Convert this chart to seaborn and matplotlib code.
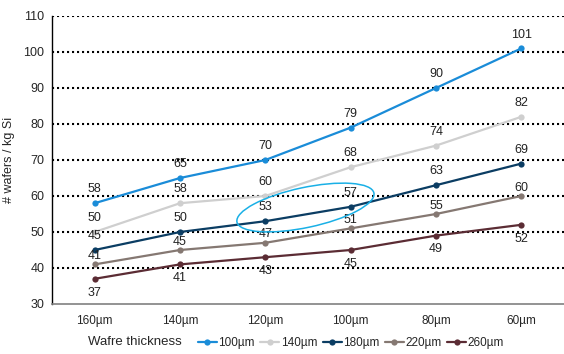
import matplotlib
matplotlib.use('Agg')
import matplotlib.pyplot as plt
from matplotlib.patches import Ellipse
from matplotlib.transforms import IdentityTransform
import seaborn as sns
import pandas as pd

# ===== data
thickness = ['160µm', '140µm', '120µm', '100µm', '80µm', '60µm']
series_names = ['100µm', '140µm', '180µm', '220µm', '260µm']
s100 = [58, 65, 70, 79, 90, 101]
s140 = [50, 58, 60, 68, 74, 82]
s180 = [45, 50, 53, 57, 63, 69]
s220 = [41, 45, 47, 51, 55, 60]
s260 = [37, 41, 43, 45, 49, 52]
colors = ['#1a8cd8', '#cfcfcf', '#0b3d63', '#857872', '#5b2c34']

sns.set_style('white')
plt.rcParams['font.family'] = ['Liberation Sans', 'DejaVu Sans']

rows = []
for name, vals in zip(series_names, [s100, s140, s180, s220, s260]):
    for i, v in enumerate(vals):
        rows.append({'x': i, 'cat': thickness[i], 'series': name, 'val': v})
df = pd.DataFrame(rows)

fig = plt.figure(figsize=(5.64, 3.54), dpi=100)
ax = fig.add_axes([52/564, 50/354, 1 - 52/564, 288/354])

sns.lineplot(data=df, x='x', y='val', hue='series', hue_order=series_names,
             palette=colors, marker='o', markersize=4.5, markeredgewidth=0,
             linewidth=1.6, ax=ax, legend=True, zorder=3)

ax.set_xlim(-0.5, 5.5)
ax.set_ylim(30, 110)
ax.set_yticks(range(30, 111, 10))
ax.set_xticks(range(6))
ax.set_xticklabels(thickness, fontsize=8.5)
ax.set_xticks([i + 0.5 for i in range(5)], minor=True)
ax.tick_params(axis='x', which='major', length=0, pad=8)
ax.tick_params(axis='x', which='minor', direction='in', length=3, color='#808080', width=1)
ax.tick_params(axis='y', direction='inout', length=5, width=1, labelsize=9, pad=3, color='black')
ax.set_xlabel('')
ax.set_ylabel('# wafers / kg Si', fontsize=9)
ax.yaxis.set_label_coords(-37/512, 0.5)

for y in range(40, 111, 10):
    ax.axhline(y, color='black', linestyle=(0, (1, 1.4)), linewidth=1.5, zorder=1)

for s in ['top', 'right']:
    ax.spines[s].set_visible(False)
ax.spines['left'].set_color('black')
ax.spines['bottom'].set_color('#808080')
ax.spines['left'].set_linewidth(1)
ax.spines['bottom'].set_linewidth(1.2)

# data labels
label_off = {'100µm': 10, '140µm': 10, '180µm': 10, '220µm': 6, '260µm': -10}
for name, vals in zip(series_names, [s100, s140, s180, s220, s260]):
    for i, v in enumerate(vals):
        ax.annotate(str(v), (i, v), xytext=(0, label_off[name]), textcoords='offset points',
                    ha='center', va='center', fontsize=9, color='#222222')

# legend
handles, labels = ax.get_legend_handles_labels()
ax.legend_.remove()
fig.legend(handles, labels, loc='center', bbox_to_anchor=(351/564, 1 - 343/354),
           ncol=5, frameon=False, fontsize=8.5, handlelength=1.6, handletextpad=0.15,
           columnspacing=0.45, borderpad=0)
fig.text(135/564, 1 - 342/354, 'Wafre thickness', ha='center', va='center', fontsize=9.5)

# highlight ellipse
fig.canvas.draw()
cx, cy = ax.transData.transform((2.47, 56.8))
ax.add_patch(Ellipse((cx, cy), 140, 40, angle=12, transform=IdentityTransform(),
                     fill=False, edgecolor='#1ab0e6', linewidth=1.1, zorder=4))

fig.savefig('out.png', dpi=100)
